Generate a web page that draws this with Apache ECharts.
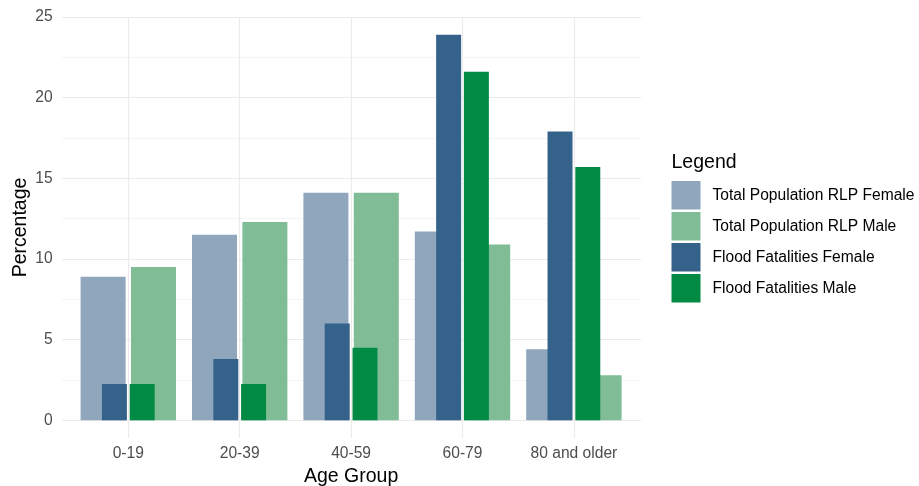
<!DOCTYPE html>
<html>
<head>
<meta charset="utf-8">
<script src="https://cdn.jsdelivr.net/npm/echarts@6/dist/echarts.min.js"></script>
<style>html,body{margin:0;padding:0;background:#fff}#c{width:919px;height:486px}</style>
</head>
<body>
<div id="c"></div>
<script>
var categories = ['0-19', '20-39', '40-59', '60-79', '80 and older'];
var totalFemale = [8.9, 11.5, 14.1, 11.7, 4.4];
var totalMale = [9.5, 12.3, 14.1, 10.9, 2.8];
var fatalFemale = [2.25, 3.8, 6.0, 23.9, 17.9];
var fatalMale = [2.25, 2.25, 4.5, 21.6, 15.7];
var seriesNames = ['Total Population RLP Female', 'Total Population RLP Male', 'Flood Fatalities Female', 'Flood Fatalities Male'];
var yTicks = [0, 5, 10, 15, 20, 25];

var FONT = 'Liberation Sans, Arial, sans-serif';
var chart = echarts.init(document.getElementById('c'), null, {renderer: 'canvas'});
chart.setOption({
  animation: false,
  backgroundColor: '#ffffff',
  textStyle: {fontFamily: FONT},
  grid: [
    {left: 61.7, right: 278, top: 17, bottom: 65.7, outerBoundsMode: 'none', containLabel: false},
    {left: 72.6, right: 289.4, top: 17, bottom: 65.7, outerBoundsMode: 'none', containLabel: false},
    {left: 72.6, right: 289.4, top: 17, bottom: 48, outerBoundsMode: 'none', containLabel: false}
  ],
  xAxis: [
    {type: 'value', gridIndex: 0, show: false, min: 0, max: 1},
    {type: 'category', gridIndex: 1, data: categories, show: false},
    {type: 'category', gridIndex: 1, data: categories, show: false},
    {type: 'category', gridIndex: 2, data: categories,
      axisLine: {show: false, onZero: false}, axisTick: {show: false},
      axisLabel: {color: '#4d4d4d', fontSize: 15.6, margin: 8, interval: 0, fontFamily: FONT},
      splitLine: {show: false},
      name: 'Age Group', nameLocation: 'middle', nameGap: 28,
      nameTextStyle: {color: '#000000', fontSize: 19.5, fontFamily: FONT}
    }
  ],
  yAxis: [
    {type: 'value', gridIndex: 0, min: yTicks[0], max: yTicks[yTicks.length - 1], interval: 5,
      axisLine: {show: false}, axisTick: {show: false},
      axisLabel: {color: '#4d4d4d', fontSize: 15.6, margin: 9, fontFamily: FONT},
      splitLine: {show: true, lineStyle: {color: '#ebebeb', width: 1.2}},
      minorTick: {show: false, splitNumber: 2},
      minorSplitLine: {show: true, lineStyle: {color: '#f4f4f4', width: 1}}
    },
    {type: 'value', gridIndex: 1, min: yTicks[0], max: yTicks[yTicks.length - 1], interval: 5, show: false},
    {type: 'value', gridIndex: 2, min: 0, max: 1, interval: 1,
      axisLine: {show: false}, axisTick: {show: false}, axisLabel: {show: false},
      splitLine: {show: false},
      name: 'Percentage', nameLocation: 'middle', nameGap: 42, nameRotate: 90,
      nameTextStyle: {color: '#000000', fontSize: 19.5, fontFamily: FONT}
    }
  ],
  legend: {
    orient: 'vertical', left: 671.5, top: 181, padding: 0,
    itemWidth: 29, itemHeight: 28.5, itemGap: 2.5, icon: 'rect',
    data: seriesNames,
    textStyle: {color: '#000000', fontSize: 15.6, fontFamily: FONT, padding: [0, 0, 0, 7]}
  },
  graphic: [
    {type: 'text', left: 671.5, top: 153, style: {text: 'Legend', fontSize: 19.5, fontFamily: FONT, fill: '#000000'}}
  ],
  series: [
    {type: 'line', xAxisIndex: 3, yAxisIndex: 2, data: [], z: 1, silent: true,
      markLine: {silent: true, symbol: 'none', label: {show: false},
        lineStyle: {color: '#ebebeb', width: 1.2, type: 'solid'},
        data: categories.map(function (c) { return {xAxis: c}; })}
    },
    {name: seriesNames[0], type: 'bar', xAxisIndex: 1, yAxisIndex: 1, data: totalFemale,
      barWidth: 45, barGap: '12%', itemStyle: {color: '#8fa6bd'}, z: 2},
    {name: seriesNames[1], type: 'bar', xAxisIndex: 1, yAxisIndex: 1, data: totalMale,
      barWidth: 45, barGap: '12%', itemStyle: {color: '#80bd96'}, z: 2},
    {name: seriesNames[2], type: 'bar', xAxisIndex: 2, yAxisIndex: 1, data: fatalFemale,
      barWidth: 25, barGap: '11%', itemStyle: {color: '#35628b'}, z: 3},
    {name: seriesNames[3], type: 'bar', xAxisIndex: 2, yAxisIndex: 1, data: fatalMale,
      barWidth: 25, barGap: '11%', itemStyle: {color: '#018a44'}, z: 3}
  ]
});
</script>
</body>
</html>
